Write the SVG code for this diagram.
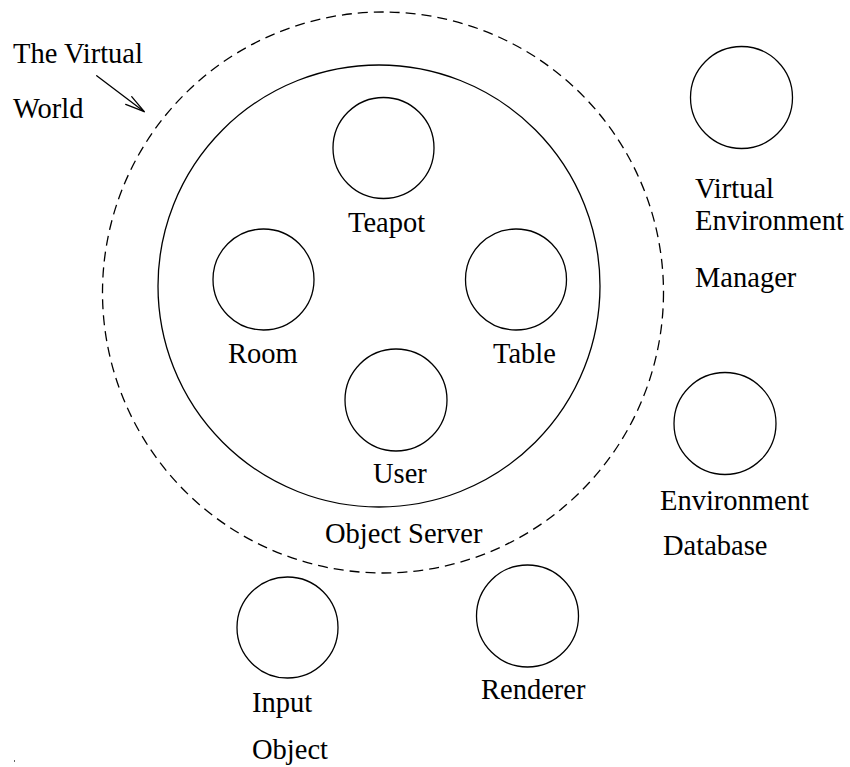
<svg xmlns="http://www.w3.org/2000/svg" width="850" height="767" viewBox="0 0 850 767">
<style>
.c{fill:none;stroke:#000;stroke-width:1.3}
.d{fill:none;stroke:#000;stroke-width:1.3;stroke-dasharray:10 6}
.t{font-family:"Liberation Serif","Times New Roman",serif;font-size:28.5px;fill:#000}
.a{fill:none;stroke:#000;stroke-width:1.3;stroke-linecap:round}
</style>
<rect width="850" height="767" fill="#fff"/>
<g id="virtual-world">
<circle class="d" cx="383" cy="292.5" r="280.5"/>
<text class="t" x="13" y="63">The Virtual</text>
<text class="t" x="13" y="118">World</text>
</g>
<g id="object-server">
<circle class="c" cx="379" cy="286" r="221"/>
<text class="t" x="325" y="543">Object Server</text>
</g>
<g id="teapot">
<circle class="c" cx="383.5" cy="148" r="50.5"/>
<text class="t" x="348" y="232">Teapot</text>
</g>
<g id="room">
<circle class="c" cx="263.5" cy="279.5" r="50.5"/>
<text class="t" x="228" y="363">Room</text>
</g>
<g id="table">
<circle class="c" cx="516" cy="279.5" r="50.5"/>
<text class="t" x="493" y="363">Table</text>
</g>
<g id="user">
<circle class="c" cx="396" cy="400" r="51"/>
<text class="t" x="373" y="483">User</text>
</g>
<g id="ve-manager">
<circle class="c" cx="741.5" cy="97.5" r="51"/>
<text class="t" x="695" y="198">Virtual</text>
<text class="t" x="695" y="230">Environment</text>
<text class="t" x="695" y="287">Manager</text>
</g>
<g id="env-database">
<circle class="c" cx="725" cy="423.5" r="51"/>
<text class="t" x="660" y="510">Environment</text>
<text class="t" x="663" y="555">Database</text>
</g>
<g id="input-object">
<circle class="c" cx="287.5" cy="627.5" r="50.5"/>
<text class="t" x="252" y="712">Input</text>
<text class="t" x="252" y="759">Object</text>
</g>
<g id="renderer">
<circle class="c" cx="527.5" cy="616" r="51"/>
<text class="t" x="481" y="699">Renderer</text>
</g>
<g id="connectors">
<line class="a" x1="96.7" y1="75.7" x2="144.3" y2="111.7"/>
<polyline class="a" points="131.7,96.7 144.3,111.7 125.7,104.3"/>
</g>
<rect x="14" y="760" width="1" height="2" fill="#666"/>
</svg>
